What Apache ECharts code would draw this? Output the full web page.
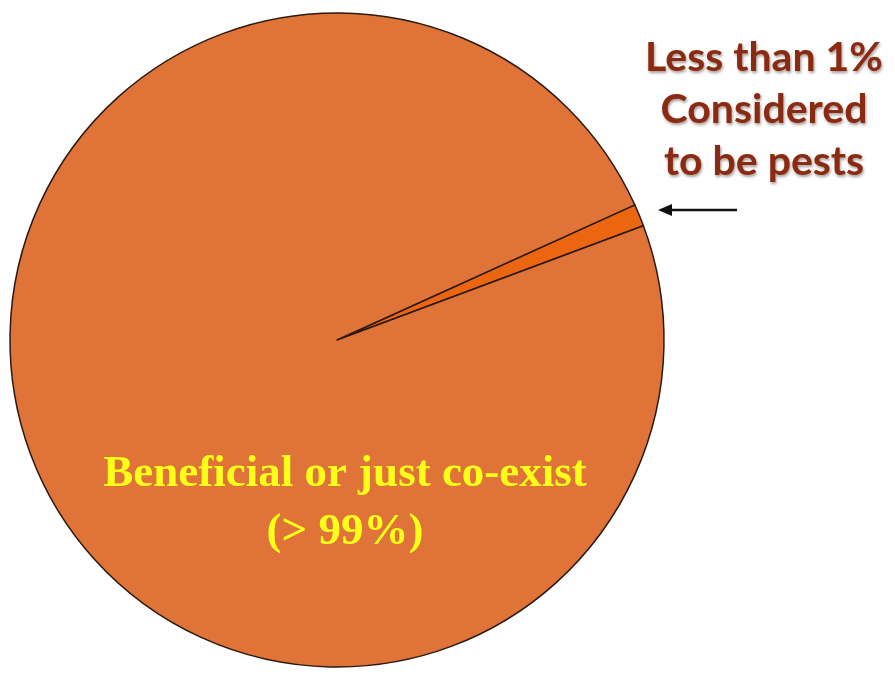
<!DOCTYPE html>
<html>
<head>
<meta charset="utf-8">
<script src="https://cdn.jsdelivr.net/npm/echarts@6/dist/echarts.min.js"></script>
<style>
  html, body { margin: 0; padding: 0; background: #fff; }
  #main { width: 895px; height: 674px; }
</style>
</head>
<body>
<div id="main"></div>
<script>
// slice names and shares (percent)
const sliceNames = ['Less than 1%\nConsidered\nto be pests', 'Beneficial or just co-exist\n(> 99%)']
const sliceValues = [1.1, 98.9]

const chart = echarts.init(document.getElementById('main'))

// per-slice look
const sliceColors = ['#EC6612', '#E07338']
const labelStyles = [
    { fontFamily: 'Lato', fontWeight: 'bold', fontSize: 41, color: '#8A2A12', lineHeight: 52,
      textShadowColor: 'rgba(60,30,20,0.45)', textShadowBlur: 3, textShadowOffsetX: 1, textShadowOffsetY: 2 },
    { fontFamily: 'Liberation Serif', fontWeight: 'bold', fontSize: 45, color: '#FFFF1A', lineHeight: 58 }
]
const labelPos = [[764, 110], [345, 503]]

const data = sliceNames.map(function (name, i) {
    return {
        name: name,
        value: sliceValues[i],
        itemStyle: { color: sliceColors[i] },
        label: Object.assign({ show: true, formatter: '{b}', align: 'center' }, labelStyles[i])
    }
})

chart.setOption({
    backgroundColor: '#ffffff',
    animation: false,
    series: [{
        type: 'pie',
        center: [337, 340],
        radius: [0, 327],
        startAngle: 24.4,
        clockwise: true,
        silent: true,
        itemStyle: { borderColor: '#2a1a10', borderWidth: 1.5 },
        label: { position: 'inside' },
        labelLine: { show: false },
        labelLayout: function (params) {
            const p = labelPos[params.dataIndex]
            return { x: p[0], y: p[1], align: 'center', verticalAlign: 'middle' }
        },
        emphasis: { disabled: true },
        data: data
    }],
    graphic: [
        { type: 'line', shape: { x1: 668, y1: 210, x2: 737, y2: 210 }, style: { stroke: '#111', lineWidth: 2.5 } },
        { type: 'polygon', shape: { points: [[658, 210], [672, 204], [672, 216]] }, style: { fill: '#111' } }
    ]
})
</script>
</body>
</html>
